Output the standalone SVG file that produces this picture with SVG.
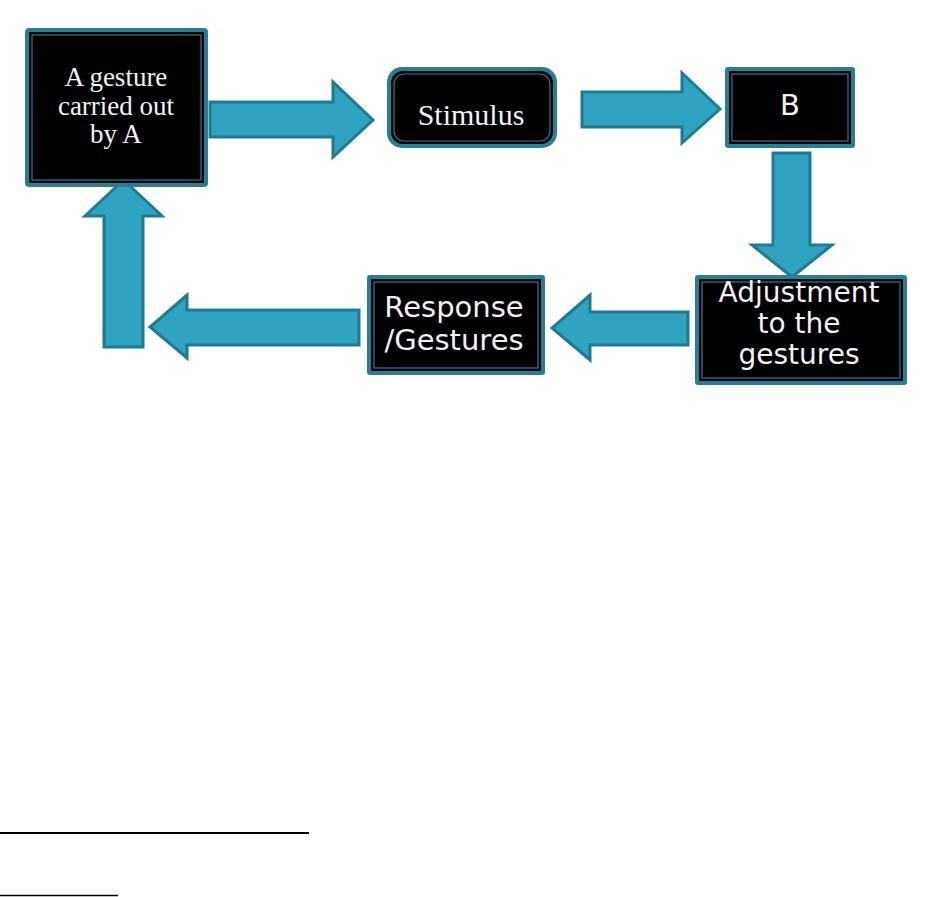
<svg xmlns="http://www.w3.org/2000/svg" width="932" height="897" viewBox="0 0 932 897">
<style>
.outer{fill:#2a7e93}
.inner{fill:#000}
.rim{fill:none;stroke:#2a7e93;stroke-width:1.2}
.arrow{fill:#2fa3c0;stroke:#1f7b92;stroke-width:3;stroke-linejoin:miter}
.serif{font-family:"Liberation Serif","Times New Roman",serif;fill:#f2f2f2;text-anchor:middle}
.sans{font-family:"DejaVu Sans","Verdana",sans-serif;fill:#f2f2f2;text-anchor:middle;font-size:29px}
.rule{stroke:#000}
</style>
<rect width="932" height="897" fill="#fff"/>
<g id="connectors">
<polygon class="arrow" points="210,102 333,102 333,82 373,120 333,157 333,137 210,137"/>
<polygon class="arrow" points="582,92 682,92 682,73 720,109 682,143 682,127 582,127"/>
<polygon class="arrow" points="773,153 810,153 810,245 832,245 792,277 752,245 773,245"/>
<polygon class="arrow" points="688,312 590,312 590,295 552,328 590,360 590,345 688,345"/>
<polygon class="arrow" points="359,310 187,310 187,295 150,327 187,358 187,345 359,345"/>
<polygon class="arrow" points="104,347 104,216 85,216 123.5,180 162,216 143,216 143,347"/>
</g>
<g id="nodeA">
<rect class="outer" x="25" y="28" width="183" height="159" rx="4"/>
<rect class="inner" x="29" y="32" width="175" height="151"/>
<rect class="rim" x="32" y="35" width="169" height="145"/>
<text class="serif" font-size="27" x="116" y="86">A gesture</text>
<text class="serif" font-size="27" x="116" y="115">carried out</text>
<text class="serif" font-size="27" x="116" y="143">by A</text>
</g>
<g id="nodeStimulus">
<rect class="outer" x="387" y="67" width="170" height="81" rx="15"/>
<rect class="inner" x="391" y="71" width="162" height="73" rx="12"/>
<rect class="rim" x="394" y="74" width="156" height="67" rx="10"/>
<text class="serif" font-size="30" x="471" y="125">Stimulus</text>
</g>
<g id="nodeB">
<rect class="outer" x="725" y="67" width="130" height="81" rx="3"/>
<rect class="inner" x="729" y="71" width="122" height="73"/>
<rect class="rim" x="732" y="74" width="116" height="67"/>
<text class="sans" x="790" y="115">B</text>
</g>
<g id="nodeAdjustment">
<rect class="outer" x="695" y="275" width="212" height="110" rx="3"/>
<rect class="inner" x="699" y="279" width="204" height="102"/>
<rect class="rim" x="702" y="282" width="198" height="96"/>
<text class="sans" style="font-size:28px" x="799" y="302">Adjustment</text>
<text class="sans" style="font-size:28px" x="799" y="333">to the</text>
<text class="sans" style="font-size:28px" x="799" y="364">gestures</text>
</g>
<g id="nodeResponse">
<rect class="outer" x="367" y="275" width="178" height="100" rx="3"/>
<rect class="inner" x="371" y="279" width="170" height="92"/>
<rect class="rim" x="374" y="282" width="164" height="86"/>
<text class="sans" x="454" y="317">Response</text>
<text class="sans" x="454" y="350">/Gestures</text>
</g>
<line class="rule" x1="0" y1="833" x2="309" y2="833" stroke-width="2"/>
<line class="rule" x1="0" y1="895.5" x2="118" y2="895.5" stroke-width="1.5"/>
</svg>
